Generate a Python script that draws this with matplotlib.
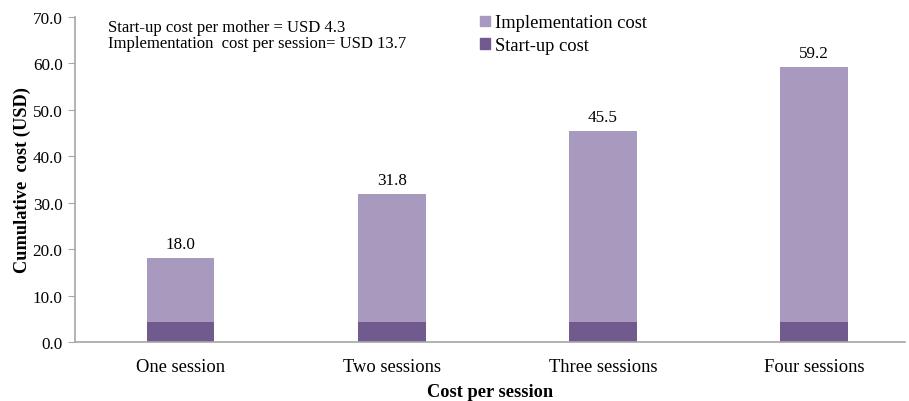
import matplotlib
matplotlib.use("Agg")
import matplotlib.pyplot as plt
from matplotlib.patches import Patch

# ---------------------------------------------------------------------------
# Data
# ---------------------------------------------------------------------------
categories = ["One session", "Two sessions", "Three sessions", "Four sessions"]
startup = [4.3, 4.3, 4.3, 4.3]
implementation = [13.7, 27.5, 41.2, 54.9]
totals = ["18.0", "31.8", "45.5", "59.2"]
yticks = [0, 10, 20, 30, 40, 50, 60, 70]

c_impl = "#A899BF"
c_start = "#705A8E"
axis_grey = "#A6A6A6"

plt.rcParams["font.family"] = ["Liberation Serif", "DejaVu Serif"]

fig = plt.figure(figsize=(9.09, 4.02), dpi=100)
ax = fig.add_axes([75 / 909, 1 - 343 / 402, (905 - 75) / 909, (343 - 18) / 402])

x = range(len(categories))
ax.bar(x, startup, width=0.32, color=c_start)
ax.bar(x, implementation, width=0.32, bottom=startup, color=c_impl)

for xi, s, i, lab in zip(x, startup, implementation, totals):
    ax.text(xi, s + i + 1.3, lab, ha="center", va="bottom", fontsize=12.3)

ax.set_xlim(-0.5, 3.43)
ax.set_ylim(0, 70)
ax.set_yticks(yticks)
ax.set_yticklabels([f"{v:.1f}" for v in yticks], fontsize=12.3)
ax.set_xticks(list(x))
ax.set_xticklabels(categories, fontsize=13.3)
ax.tick_params(axis="x", length=0, pad=11.5)
ax.tick_params(axis="y", length=5, color=axis_grey, pad=4)

for side in ["top", "right"]:
    ax.spines[side].set_visible(False)
for side in ["left", "bottom"]:
    ax.spines[side].set_color(axis_grey)
    ax.spines[side].set_linewidth(1.2)

ax.set_ylabel("Cumulative  cost (USD)", fontsize=13.2, fontweight="bold", labelpad=1)
ax.set_xlabel("Cost per session", fontsize=13.2, fontweight="bold", labelpad=5.5)

fig.text(108 / 909, 1 - 36 / 402,
         "Start-up cost per mother = USD 4.3\nImplementation  cost per session= USD 13.7",
         fontsize=12, va="center", ha="left", linespacing=1.05)

handles = [Patch(color=c_impl, label="Implementation cost"),
           Patch(color=c_start, label="Start-up cost")]
fig.legend(handles=handles, loc="upper left", bbox_to_anchor=(473 / 909, 1 - 8 / 402),
           frameon=False, fontsize=13.3, handlelength=0.5, handleheight=0.5,
           handletextpad=0.3, labelspacing=0.3, borderaxespad=0)

fig.savefig("out.png", dpi=100)
